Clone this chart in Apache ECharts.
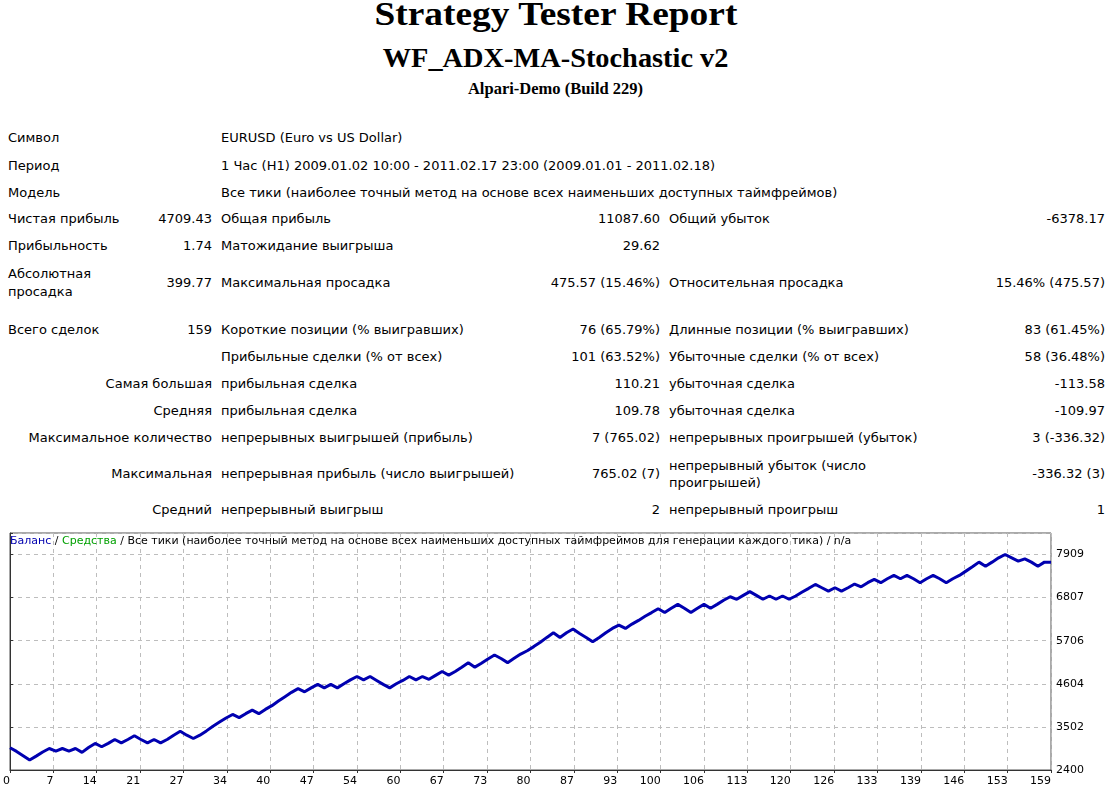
<!DOCTYPE html>
<html>
<head>
<meta charset="utf-8">
<script src="https://cdn.jsdelivr.net/npm/echarts@6/dist/echarts.min.js"></script>
<style>
body { margin: 0; background: #fff; width: 1111px; height: 793px; position: relative; overflow: hidden; }
.h { position: absolute; left: 0; width: 1111px; text-align: center; font-family: "Liberation Serif", serif; font-weight: bold; color: #000; white-space: nowrap; }
.h span { display: inline-block; transform-origin: 50% 50%; }
.t { position: absolute; font: 13px/16px "DejaVu Sans", sans-serif; color: #000; white-space: nowrap; }
.r { text-align: right; }
#container { position: absolute; left: 0; top: 525px; width: 1111px; height: 268px; }
</style>
</head>
<body>
<div class="h" style="top:-3px;font-size:34px;line-height:34px"><span style="transform:scaleX(1.1)">Strategy Tester Report</span></div>
<div class="h" style="top:45px;font-size:27px;line-height:27px"><span style="transform:scaleX(1.05)">WF_ADX-MA-Stochastic v2</span></div>
<div class="h" style="top:81px;font-size:16.5px;line-height:16.5px"><span>Alpari-Demo (Build 229)</span></div>

<div class="t" style="left:8px;top:130px">Символ</div>
<div class="t" style="left:221px;top:130px">EURUSD (Euro vs US Dollar)</div>

<div class="t" style="left:8px;top:158px">Период</div>
<div class="t" style="left:221px;top:158px">1 Час (H1) 2009.01.02 10:00 - 2011.02.17 23:00 (2009.01.01 - 2011.02.18)</div>

<div class="t" style="left:8px;top:185px">Модель</div>
<div class="t" style="left:221px;top:185px">Все тики (наиболее точный метод на основе всех наименьших доступных таймфреймов)</div>

<div class="t" style="left:8px;top:211px">Чистая прибыль</div>
<div class="t r" style="right:899px;top:211px">4709.43</div>
<div class="t" style="left:221px;top:211px">Общая прибыль</div>
<div class="t r" style="right:451px;top:211px">11087.60</div>
<div class="t" style="left:669px;top:211px">Общий убыток</div>
<div class="t r" style="right:6px;top:211px">-6378.17</div>

<div class="t" style="left:8px;top:238px">Прибыльность</div>
<div class="t r" style="right:899px;top:238px">1.74</div>
<div class="t" style="left:221px;top:238px">Матожидание выигрыша</div>
<div class="t r" style="right:451px;top:238px">29.62</div>

<div class="t" style="left:8px;top:265px;line-height:18px">Абсолютная<br>просадка</div>
<div class="t r" style="right:899px;top:275px">399.77</div>
<div class="t" style="left:221px;top:275px">Максимальная просадка</div>
<div class="t r" style="right:451px;top:275px">475.57 (15.46%)</div>
<div class="t" style="left:669px;top:275px">Относительная просадка</div>
<div class="t r" style="right:6px;top:275px">15.46% (475.57)</div>

<div class="t" style="left:8px;top:322px">Всего сделок</div>
<div class="t r" style="right:899px;top:322px">159</div>
<div class="t" style="left:221px;top:322px">Короткие позиции (% выигравших)</div>
<div class="t r" style="right:451px;top:322px">76 (65.79%)</div>
<div class="t" style="left:669px;top:322px">Длинные позиции (% выигравших)</div>
<div class="t r" style="right:6px;top:322px">83 (61.45%)</div>

<div class="t" style="left:221px;top:349px">Прибыльные сделки (% от всех)</div>
<div class="t r" style="right:451px;top:349px">101 (63.52%)</div>
<div class="t" style="left:669px;top:349px">Убыточные сделки (% от всех)</div>
<div class="t r" style="right:6px;top:349px">58 (36.48%)</div>

<div class="t r" style="right:899px;top:376px">Самая большая</div>
<div class="t" style="left:221px;top:376px">прибыльная сделка</div>
<div class="t r" style="right:451px;top:376px">110.21</div>
<div class="t" style="left:669px;top:376px">убыточная сделка</div>
<div class="t r" style="right:6px;top:376px">-113.58</div>

<div class="t r" style="right:899px;top:403px">Средняя</div>
<div class="t" style="left:221px;top:403px">прибыльная сделка</div>
<div class="t r" style="right:451px;top:403px">109.78</div>
<div class="t" style="left:669px;top:403px">убыточная сделка</div>
<div class="t r" style="right:6px;top:403px">-109.97</div>

<div class="t r" style="right:899px;top:430px">Максимальное количество</div>
<div class="t" style="left:221px;top:430px">непрерывных выигрышей (прибыль)</div>
<div class="t r" style="right:451px;top:430px">7 (765.02)</div>
<div class="t" style="left:669px;top:430px">непрерывных проигрышей (убыток)</div>
<div class="t r" style="right:6px;top:430px">3 (-336.32)</div>

<div class="t r" style="right:899px;top:466px">Максимальная</div>
<div class="t" style="left:221px;top:466px">непрерывная прибыль (число выигрышей)</div>
<div class="t r" style="right:451px;top:466px">765.02 (7)</div>
<div class="t" style="left:669px;top:457px;line-height:17px">непрерывный убыток (число<br>проигрышей)</div>
<div class="t r" style="right:6px;top:466px">-336.32 (3)</div>

<div class="t r" style="right:899px;top:502px">Средний</div>
<div class="t" style="left:221px;top:502px">непрерывный выигрыш</div>
<div class="t r" style="right:451px;top:502px">2</div>
<div class="t" style="left:669px;top:502px">непрерывный проигрыш</div>
<div class="t r" style="right:6px;top:502px">1</div>

<div id="container"></div>
<script>
// balance after each trade
var balance = [
  2970, 2875, 2765, 2655, 2755, 2860, 2950, 2885, 2950, 2885,
  2950, 2850, 2975, 3080, 2995, 3080, 3180, 3095, 3180, 3275,
  3180, 3095, 3180, 3095, 3180, 3290, 3390, 3290, 3205, 3290,
  3400, 3520, 3625, 3730, 3820, 3740, 3840, 3930, 3840, 3950,
  4045, 4165, 4275, 4385, 4480, 4400, 4500, 4590, 4500, 4590,
  4500, 4605, 4705, 4790, 4705, 4790, 4690, 4590, 4500, 4605,
  4690, 4790, 4705, 4790, 4720, 4820, 4920, 4825, 4920, 5030,
  5145, 5030, 5130, 5240, 5340, 5250, 5145, 5255, 5365, 5450,
  5555, 5665, 5790, 5910, 5790, 5910, 6005, 5890, 5790, 5680,
  5790, 5910, 6020, 6105, 6020, 6130, 6225, 6330, 6425, 6525,
  6425, 6535, 6635, 6535, 6425, 6535, 6635, 6535, 6635, 6740,
  6830, 6765, 6865, 6960, 6865, 6765, 6850, 6765, 6850, 6765,
  6850, 6950, 7045, 7145, 7060, 6975, 7060, 6975, 7060, 7155,
  7085, 7190, 7275, 7190, 7290, 7375, 7290, 7375, 7290, 7190,
  7290, 7375, 7290, 7190, 7290, 7375, 7485, 7595, 7715, 7610,
  7715, 7825, 7910, 7825, 7740, 7800, 7715, 7610, 7715, 7710
];
var xTickLabels = [0, 7, 14, 21, 27, 34, 40, 47, 54, 60, 67, 73, 80, 87, 93, 100, 106, 113, 120, 126, 133, 139, 146, 153, 159];
var yTickLabels = [2400, 3502, 4604, 5706, 6807, 7909];

var dom = document.getElementById("container");
var myChart = echarts.init(dom);

var xStep = 159 / (xTickLabels.length - 1);
var yStep = (yTickLabels[yTickLabels.length - 1] - yTickLabels[0]) / (yTickLabels.length - 1);
var font = '"DejaVu Sans", sans-serif';

var option = {
    backgroundColor: '#fff',
    animation: false,
    title: {
        text: '{b|Баланс} / {g|Средства} / Все тики (наиболее точный метод на основе всех наименьших доступных таймфреймов для генерации каждого тика) / n/a',
        left: 10,
        top: 11,
        padding: 0,
        textStyle: {
            fontFamily: font,
            fontSize: 11,
            fontWeight: 'normal',
            color: '#000',
            rich: {
                b: { color: '#0000b0', fontFamily: font, fontSize: 11 },
                g: { color: '#00a000', fontFamily: font, fontSize: 11 }
            }
        }
    },
    grid: {
        left: 9,
        right: 60,
        top: 8,
        bottom: 23,
        show: true,
        borderColor: '#555',
        borderWidth: 1
    },
    xAxis: {
        type: 'value',
        min: 0,
        max: 159,
        interval: xStep,
        axisLine: { lineStyle: { color: '#333' } },
        axisTick: { show: true, length: 3, lineStyle: { color: '#333' } },
        axisLabel: {
            fontFamily: font,
            fontSize: 11,
            color: '#000',
            align: 'right',
            margin: 6,
            formatter: function (v) {
                var k = Math.round(v / xStep);
                return k >= 0 && k < xTickLabels.length ? String(xTickLabels[k]) : '';
            }
        },
        splitLine: { show: true, lineStyle: { color: '#bdbdbd', type: [4, 4], width: 1 } }
    },
    yAxis: {
        type: 'value',
        position: 'right',
        min: yTickLabels[0],
        max: yTickLabels[0] + 5.5 * yStep,
        interval: yStep,
        axisLine: { show: true, lineStyle: { color: '#333' } },
        axisTick: { show: true, length: 3, lineStyle: { color: '#333' } },
        axisLabel: {
            fontFamily: font,
            fontSize: 11,
            color: '#000',
            margin: 5,
            formatter: function (v) {
                var k = Math.round((v - yTickLabels[0]) / yStep);
                if (Math.abs(v - (yTickLabels[0] + k * yStep)) > 1) return '';
                return k >= 0 && k < yTickLabels.length ? String(yTickLabels[k]) : '';
            }
        },
        splitLine: { show: true, lineStyle: { color: '#bdbdbd', type: [4, 4], width: 1 } }
    },
    series: [
        {
            name: 'Баланс',
            type: 'line',
            symbol: 'none',
            data: balance.map(function (v, i) { return [i, v]; }),
            lineStyle: { color: '#0000b0', width: 3 }
        }
    ]
};
myChart.setOption(option, true);
</script>
</body>
</html>
